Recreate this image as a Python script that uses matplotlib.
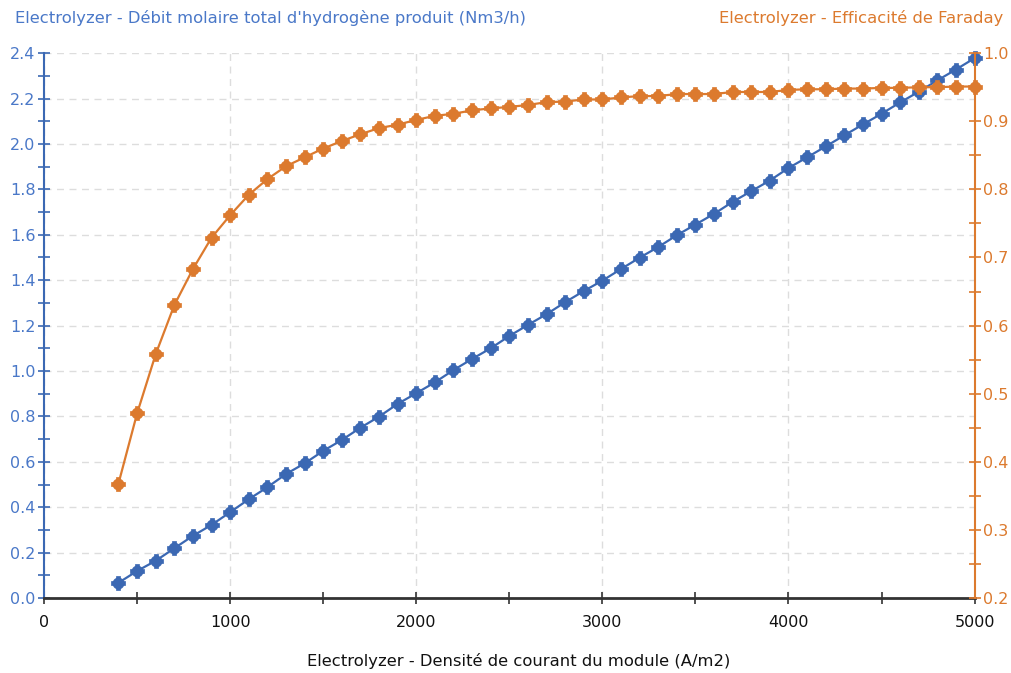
import numpy as np
import matplotlib
matplotlib.use("Agg")
import matplotlib.pyplot as plt
from matplotlib.ticker import MultipleLocator, FormatStrFormatter

# current density of the module (A/m2)
densite = list(range(400, 5001, 100))

# total H2 molar flow (Nm3/h)
debit_h2 = [0.067, 0.119, 0.164, 0.219, 0.274, 0.322, 0.378, 0.435, 0.488, 0.546,
            0.593, 0.648, 0.696, 0.750, 0.799, 0.855, 0.902, 0.950, 1.004, 1.053,
            1.100, 1.154, 1.203, 1.250, 1.303, 1.352, 1.398, 1.449, 1.499, 1.546,
            1.598, 1.645, 1.692, 1.745, 1.792, 1.839, 1.894, 1.941, 1.989, 2.038,
            2.086, 2.133, 2.183, 2.230, 2.280, 2.328, 2.378]

# Faraday efficiency
eff_faraday = [0.368, 0.471, 0.558, 0.630, 0.683, 0.729, 0.762, 0.792, 0.815, 0.834,
               0.847, 0.860, 0.871, 0.881, 0.890, 0.895, 0.902, 0.908, 0.911, 0.916,
               0.919, 0.921, 0.924, 0.928, 0.929, 0.932, 0.932, 0.935, 0.937, 0.937,
               0.940, 0.940, 0.940, 0.943, 0.943, 0.943, 0.946, 0.947, 0.947, 0.948,
               0.948, 0.949, 0.949, 0.950, 0.950, 0.951, 0.951]

blue = "#3b68b3"
blue_txt = "#4a78c8"
orange = "#dc7a2e"

plt.rcParams['font.family'] = ['DejaVu Sans']
fig = plt.figure(figsize=(10.12, 6.73), dpi=100)
ax = fig.add_axes([0.0435, 0.1114, 0.9195, 0.8096])
ax2 = ax.twinx()

# line + blobby marker (plus shape over a disc)
ax.plot(densite, debit_h2, color=blue, lw=1.6, zorder=3)
ax.plot(densite, debit_h2, ls="none", marker="o", ms=7.5, color=blue, mec=blue, zorder=4, clip_on=False)
ax.plot(densite, debit_h2, ls="none", marker="P", ms=9.5, color=blue, mec=blue, mew=0.5, zorder=4, clip_on=False)
ax2.plot(densite, eff_faraday, color=orange, lw=1.6, zorder=3)
ax2.plot(densite, eff_faraday, ls="none", marker="o", ms=7.5, color=orange, mec=orange, zorder=4, clip_on=False)
ax2.plot(densite, eff_faraday, ls="none", marker="P", ms=9.5, color=orange, mec=orange, mew=0.5, zorder=4, clip_on=False)

ax.set_xlim(0, 5000)
ax.set_ylim(0, 2.4)
ax2.set_ylim(0.2, 1.0)

ax.xaxis.set_major_locator(MultipleLocator(1000))
ax.xaxis.set_minor_locator(MultipleLocator(500))
ax.yaxis.set_major_locator(MultipleLocator(0.2))
ax.yaxis.set_minor_locator(MultipleLocator(0.1))
ax2.yaxis.set_major_locator(MultipleLocator(0.1))
ax2.yaxis.set_minor_locator(MultipleLocator(0.05))
ax.yaxis.set_major_formatter(FormatStrFormatter('%.1f'))
ax2.yaxis.set_major_formatter(FormatStrFormatter('%.1f'))

ax.grid(True, which="major", color="#dddddd", ls=(0, (5, 4)), lw=1)
ax.set_axisbelow(True)

for a in (ax, ax2):
    a.spines['top'].set_visible(False)
ax.spines['right'].set_visible(False)
ax2.spines['left'].set_visible(False)
ax2.spines['bottom'].set_visible(False)
ax.spines['left'].set_color(blue)
ax.spines['left'].set_linewidth(1.5)
ax2.spines['right'].set_color(orange)
ax2.spines['right'].set_linewidth(1.5)
ax.spines['bottom'].set_color("#333333")
ax.spines['bottom'].set_linewidth(2)

ax.tick_params(axis='x', which='both', direction='inout', length=8, width=1.2,
               colors="#333333", labelsize=11.5, pad=8)
ax.tick_params(axis='x', labelcolor="#111111")
ax.tick_params(axis='y', which='both', direction='inout', length=8, width=1.2,
               color=blue, labelcolor=blue_txt, labelsize=11.5, pad=2)
ax2.tick_params(axis='y', which='both', direction='inout', length=8, width=1.2,
                color=orange, labelcolor=orange, labelsize=11.5, pad=2)

fig.text(15 / 1012, 1 - 18 / 673, "Electrolyzer - Débit molaire total d'hydrogène produit (Nm3/h)",
         color=blue_txt, fontsize=11.8, ha="left", va="center")
fig.text(1003 / 1012, 1 - 18 / 673, "Electrolyzer - Efficacité de Faraday",
         color=orange, fontsize=11.8, ha="right", va="center")
fig.text(519 / 1012, 1 - 661 / 673, "Electrolyzer - Densité de courant du module (A/m2)",
         color="#111111", fontsize=11.8, ha="center", va="center")

fig.savefig("out.png", dpi=100)
